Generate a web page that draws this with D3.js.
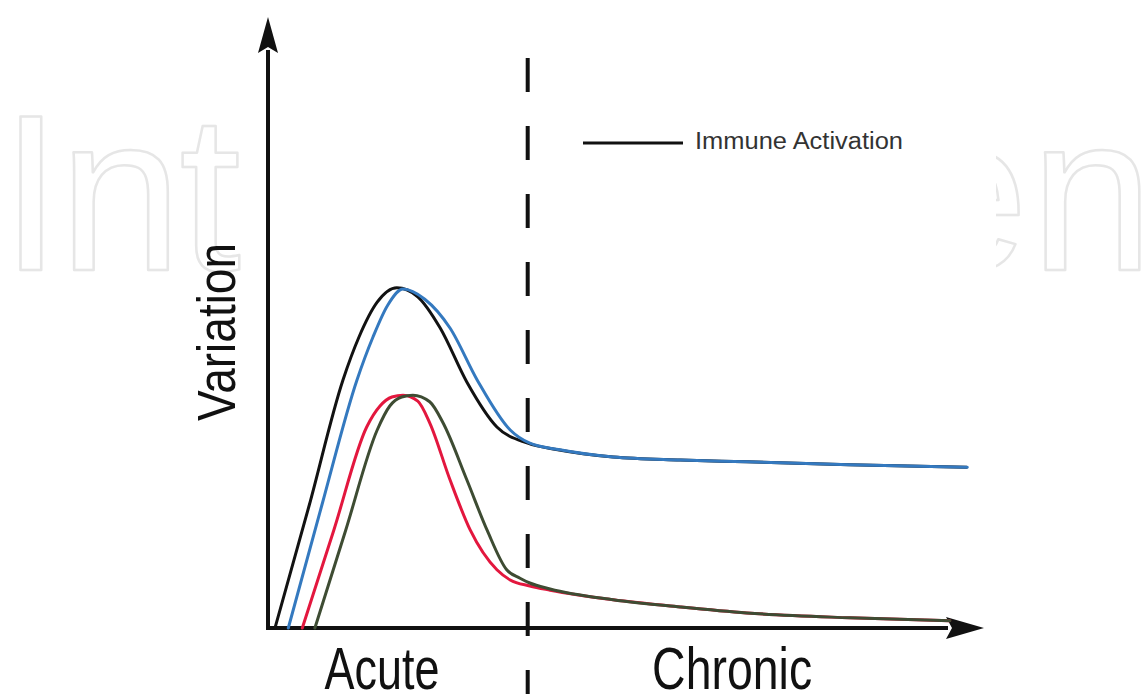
<!DOCTYPE html>
<html>
<head>
<meta charset="utf-8">
<script src="https://cdn.jsdelivr.net/npm/d3@7"></script>
<style>
  html, body { margin: 0; padding: 0; background: #fff; }
  svg { display: block; }
</style>
</head>
<body>
<svg id="chart" width="1145" height="694"></svg>
<script>
// ---------- data (time in arbitrary units, variation in arbitrary units) ----------
const phases = ["Acute", "Chronic"];
const phaseLabelX = [16.3, 66.3];      // label anchor along time axis
const phaseBoundary = 37.1;            // acute / chronic boundary
const yAxisLabel = "Variation";
const legendLabel = "Immune Activation";
const watermarkParts = ["Int", "en"];  // visible fragments of the "IntechOpen" watermark

const blackSeries = [[1,0],[5.9,20.5],[10.7,41.3],[13,48.5],[15.6,54.3],[18.4,56.7],[21.4,55.2],[24.6,50],[28.4,41],[32.7,33.5],[37.1,30.8],[41.4,29.7],[49.3,28.5],[58.9,28],[68.4,27.7],[83,27.2],[99.8,26.8]];
const blueSeries  = [[2.9,0],[7.7,20.5],[12.7,41.3],[15,48.5],[17.1,53.8],[19.3,56.5],[22.4,54.8],[26,50],[29.9,41.3],[34.6,33],[37.4,30.8],[41.7,29.7],[49.3,28.5],[58.9,28],[68.4,27.7],[83.1,27.2],[99.9,26.8]];
const redSeries   = [[4.9,0],[9.4,16.3],[14.1,33.5],[16,37],[17.7,38.5],[19.3,38.8],[21.4,37.8],[23.1,34.2],[26,24.7],[28.9,16.3],[32.7,9.7],[34.6,8],[37.4,7],[40.3,6.3],[49.3,4.7],[58.9,3.5],[68.4,2.5],[83.1,1.7],[97.4,1.2]];
const greenSeries = [[6.7,0],[11.1,16.3],[15.6,33],[17.4,37],[19.1,38.5],[20.7,38.8],[23.1,37.7],[25,34.2],[28.4,24.7],[31.3,16.3],[34.1,9.7],[36,8.3],[37.4,7.5],[40.3,6.5],[49.3,4.7],[58.9,3.5],[68.4,2.5],[83.1,1.7],[97.4,1.2]];

// ---------- drawing ----------
const svg = d3.select("#chart");
const W = 1145, H = 694;
const FONT = "Liberation Sans, Arial, sans-serif";

const x = d3.scaleLinear().domain([0, 100]).range([268, 968]);
const y = d3.scaleLinear().domain([0, 100]).range([628, 28]);

// watermark fragments (outlined, very light)
const wmStyle = sel => sel
  .attr("y", 270)
  .attr("font-family", FONT)
  .attr("font-size", 222)
  .attr("fill", "none")
  .attr("stroke", "#e6e6e6")
  .attr("stroke-width", 2.5)
  .attr("stroke-linejoin", "round");

svg.append("defs").append("clipPath").attr("id", "wmclip")
  .append("rect").attr("x", 996).attr("y", 0).attr("width", W - 996).attr("height", H);

svg.append("text").call(wmStyle).attr("x", 0).attr("letter-spacing", -3).text(watermarkParts[0]);
// measure where "en" of "...Op|en" begins
const probe = svg.append("text").call(wmStyle).attr("letter-spacing", 2).attr("x", 0).text("IntechOp");
const enX = -12 + probe.node().getComputedTextLength();
probe.remove();
svg.append("text").call(wmStyle).attr("x", enX).attr("letter-spacing", 2)
  .attr("clip-path", "url(#wmclip)")
  .text(watermarkParts[1]);

// axes (no ticks)
const xAxis = d3.axisBottom(x).tickValues([]).tickSizeOuter(0);
const yAxis = d3.axisLeft(y).tickValues([]).tickSizeOuter(0);

const gx = svg.append("g").attr("transform", `translate(0,${y(0)})`).call(xAxis);
gx.select(".domain").attr("d", `M${x(0) - 2},0H${948}`)
  .attr("stroke", "#111").attr("stroke-width", 4);

const gy = svg.append("g").attr("transform", `translate(${x(0)},0)`).call(yAxis);
gy.select(".domain").attr("d", `M0,${y(0) + 2}V${50}`)
  .attr("stroke", "#111").attr("stroke-width", 4);

// arrowheads
svg.append("path")
  .attr("d", `M${x(0)},17 L${x(0) + 10},53 L${x(0)},47 L${x(0) - 10},53 Z`)
  .attr("fill", "#111");
svg.append("path")
  .attr("d", `M984,${y(0)} L946,${y(0) + 11} L952,${y(0)} L946,${y(0) - 11} Z`)
  .attr("fill", "#111");

// phase boundary dashed line
svg.append("line")
  .attr("x1", x(phaseBoundary)).attr("x2", x(phaseBoundary))
  .attr("y1", 58).attr("y2", H)
  .attr("stroke", "#111").attr("stroke-width", 4)
  .attr("stroke-dasharray", "34,34");

// curves
const line = d3.line()
  .x(d => x(d[0])).y(d => y(d[1]))
  .curve(d3.curveMonotoneX);

const series = [
  { data: redSeries,   color: "#e3173e" },
  { data: greenSeries, color: "#3e4c33" },
  { data: blackSeries, color: "#121212" },
  { data: blueSeries,  color: "#3479bf" }
];
svg.append("g").selectAll("path")
  .data(series).join("path")
  .attr("d", d => line(d.data))
  .attr("fill", "none")
  .attr("stroke", d => d.color)
  .attr("stroke-width", 3)
  .attr("stroke-linecap", "round")
  .attr("stroke-linejoin", "round");

// legend
svg.append("line")
  .attr("x1", 583).attr("x2", 683).attr("y1", 143).attr("y2", 143)
  .attr("stroke", "#111").attr("stroke-width", 3);
svg.append("text")
  .attr("x", 695).attr("y", 149)
  .attr("font-family", FONT)
  .attr("font-size", 23)
  .attr("textLength", 208).attr("lengthAdjust", "spacingAndGlyphs")
  .attr("fill", "#333")
  .text(legendLabel);

// y axis label
svg.append("text")
  .attr("transform", "translate(235,421) rotate(-90)")
  .attr("font-family", FONT)
  .attr("font-size", 54)
  .attr("textLength", 178).attr("lengthAdjust", "spacingAndGlyphs")
  .attr("fill", "#111")
  .text(yAxisLabel);

// phase labels
const labelWidths = [115, 160];
svg.append("g").selectAll("text")
  .data(phases).join("text")
  .attr("x", (d, i) => x(phaseLabelX[i]))
  .attr("y", 689)
  .attr("text-anchor", "middle")
  .attr("font-family", FONT)
  .attr("font-size", 60)
  .attr("textLength", (d, i) => labelWidths[i]).attr("lengthAdjust", "spacingAndGlyphs")
  .attr("fill", "#111")
  .text(d => d);
</script>
</body>
</html>
